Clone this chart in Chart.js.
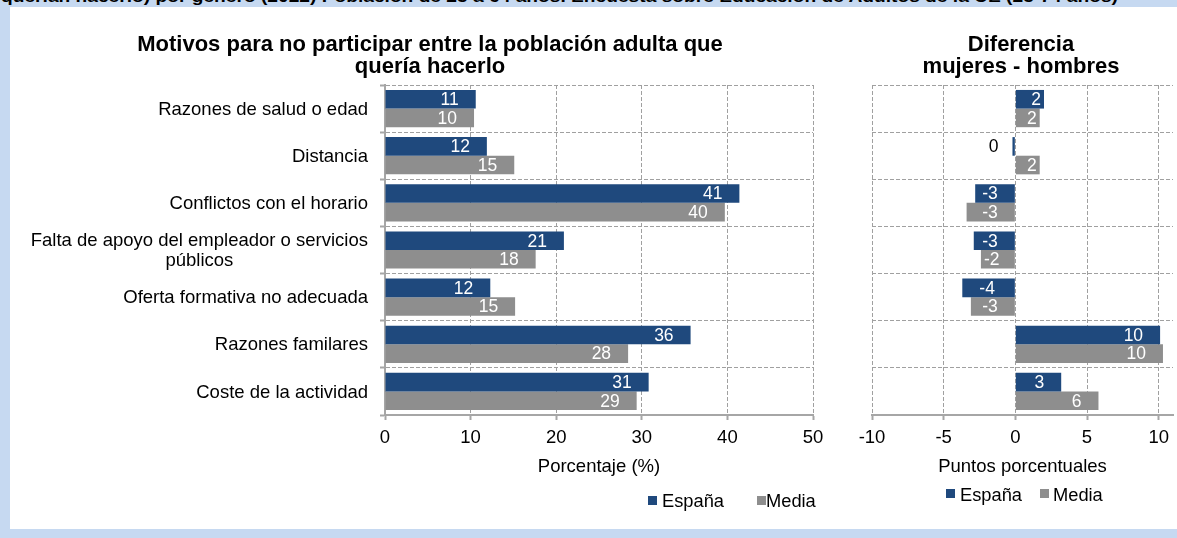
<!DOCTYPE html>
<html><head><meta charset="utf-8">
<script src="https://cdn.jsdelivr.net/npm/chart.js@4.4.1/dist/chart.umd.min.js"></script>
<style>
html,body{margin:0;padding:0;}
body{width:1177px;height:538px;background:#C6D9F1;position:relative;overflow:hidden;font-family:"Liberation Sans",Arial,sans-serif;}
#panel{position:absolute;left:10px;top:7px;width:1167px;height:522px;background:#fff;}
#hdr{position:absolute;left:0;top:0;width:1177px;height:7px;overflow:hidden;}
#hdr span{position:absolute;left:1px;top:-11px;font:bold 16px "Liberation Sans",Arial,sans-serif;white-space:nowrap;line-height:16px;color:#000;transform-origin:0 0;}
#c1{position:absolute;left:10px;top:7px;}
#c2{position:absolute;left:846px;top:7px;}
.leg{position:absolute;font:18.3px "Liberation Sans",Arial,sans-serif;color:#000;white-space:nowrap;line-height:20px;}
.sq{position:absolute;width:9px;height:9px;}
</style></head>
<body>
<div id="panel"></div>
<div id="hdr"><span id="hdrtxt">querían hacerlo) por género (2022) Población de 25 a 64 años. Encuesta sobre Educación de Adultos de la UE (25-74 años)</span></div>
<canvas id="c1" width="840" height="522"></canvas>
<canvas id="c2" width="331" height="522"></canvas>

<div class="sq" style="left:648px;top:496px;background:#1F497D"></div>
<div class="leg" style="left:662px;top:491px">España</div>
<div class="sq" style="left:757px;top:496px;background:#8E8E8E"></div>
<div class="leg" style="left:766px;top:491px">Media</div>

<div class="sq" style="left:946px;top:489px;background:#1F497D"></div>
<div class="leg" style="left:960px;top:485px">España</div>
<div class="sq" style="left:1040px;top:489px;background:#8E8E8E"></div>
<div class="leg" style="left:1053px;top:485px">Media</div>

<script>
// ---- data ----
const categories = [
  "Razones de salud o edad",
  "Distancia",
  "Conflictos con el horario",
  ["Falta de apoyo del empleador o servicios", "públicos"],
  "Oferta formativa no adecuada",
  "Razones familares",
  "Coste de la actividad"
];
const seriesNames = ["España", "Media"];
const espanaPct  = [10.6, 11.9, 41.4, 20.9, 12.3, 35.7, 30.8];
const mediaPct   = [10.4, 15.1, 39.7, 17.6, 15.2, 28.4, 29.4];
const espanaDiff = [2.0, -0.2, -2.8, -2.9, -3.7, 10.1, 3.2];
const mediaDiff  = [1.7, 1.7, -3.4, -2.4, -3.1, 10.3, 5.8];
const pctTicks   = [0, 10, 20, 30, 40, 50];
const diffTicks  = [-10, -5, 0, 5, 10];
const titleLeft  = ["Motivos para no participar entre la población adulta que", "quería hacerlo"];
const titleRight = ["Diferencia", "mujeres - hombres"];
const axisTitleLeft  = "Porcentaje (%)";
const axisTitleRight = "Puntos porcentuales";

// ---- styles ----
const FONT = '"Liberation Sans", Arial, sans-serif';
const BLUE = '#1F497D', GRAY = '#8E8E8E', GRID = '#A0A0A0', AXIS = '#A6A6A6';
const TXT = 18.5;
Chart.defaults.font.family = FONT;
Chart.defaults.color = '#000';

// header fit
(function(){
  const s = document.getElementById('hdrtxt');
  const w = s.getBoundingClientRect().width;
  s.style.transform = 'scaleX(' + (1117 / w) + ')';
})();

const catLabelPlugin = {
  id: 'catLabels',
  afterDraw(chart) {
    const y = chart.scales.y, ctx = chart.ctx;
    ctx.save();
    ctx.font = TXT + 'px ' + FONT;
    ctx.fillStyle = '#000';
    ctx.textBaseline = 'middle';
    ctx.textAlign = 'center';
    const right = y.right - 17;
    chart.data.labels.forEach((lab, i) => {
      const lines = Array.isArray(lab) ? lab : [lab];
      const w = Math.max(...lines.map(l => ctx.measureText(l).width));
      const cy = y.getPixelForValue(i);
      lines.forEach((l, j) => {
        ctx.fillText(l, right - w / 2, cy + 1 + (j - (lines.length - 1) / 2) * 20);
      });
    });
    ctx.restore();
  }
};

const barLabelPlugin = {
  id: 'barLabels',
  afterDatasetsDraw(chart) {
    const ctx = chart.ctx;
    ctx.save();
    ctx.font = '17.5px ' + FONT;
    ctx.textBaseline = 'middle';
    ctx.textAlign = 'left';
    chart.data.datasets.forEach((ds, di) => {
      const meta = chart.getDatasetMeta(di);
      meta.data.forEach((bar, i) => {
        const v = ds.data[i];
        const r = Math.round(v);
        const txt = String(r === 0 ? 0 : r);
        const w = ctx.measureText(txt).width;
        const end = bar.x, base = bar.base, len = Math.abs(end - base);
        let left;
        if (len < w + 6) {
          ctx.fillStyle = '#000';
          left = v < 0 ? end - 14 - w : end + 14;
        } else {
          ctx.fillStyle = '#fff';
          if (v >= 0) {
            left = end - 17 - w;
            if (left < base + 17) { left = base + 17; if (left + w > end - 3) left = end - 3 - w; }
          } else {
            left = end + 17;
            if (left + w > base - 17) { left = base - 17 - w; if (left < end + 3) left = end + 3; }
          }
        }
        ctx.fillText(txt, left, bar.y + 1);
      });
    });
    ctx.restore();
  }
};

function titleOpts(text) {
  return { display: true, text: text, color: '#000',
    font: { family: FONT, size: 22, weight: 'bold', lineHeight: 1.0 },
    padding: { top: 27, bottom: 7 } };
}
function xScale(min, max, tickVals, title) {
  return {
    type: 'linear', min: min, max: max,
    ticks: { color: '#000', font: { size: TXT }, padding: 7, autoSkip: false, maxRotation: 0 },
    afterBuildTicks(s) { s.ticks = tickVals.map(v => ({ value: v })); },
    grid: { color: GRID, lineWidth: 1, tickLength: 5, tickColor: AXIS, tickWidth: 2 },
    border: { display: true, color: AXIS, width: 2, dash: [4, 2] },
    title: { display: true, text: title, color: '#000', font: { size: TXT }, padding: { top: 4, bottom: 2 } },
    afterFit(s) { s.height = 65; s.paddingLeft = 0; s.paddingRight = 0; }
  };
}
function datasets(a, b) {
  return [
    { label: seriesNames[0], data: a, backgroundColor: BLUE, categoryPercentage: 0.79, barPercentage: 1.0 },
    { label: seriesNames[1], data: b, backgroundColor: GRAY, categoryPercentage: 0.79, barPercentage: 1.0 }
  ];
}

new Chart(document.getElementById('c1'), {
  type: 'bar',
  data: { labels: categories, datasets: datasets(espanaPct, mediaPct) },
  options: {
    indexAxis: 'y', responsive: false, animation: false,
    layout: { padding: { left: 37, right: 37, top: 0, bottom: 49 } },
    plugins: { legend: { display: false }, tooltip: { enabled: false }, title: titleOpts(titleLeft) },
    scales: {
      x: xScale(0, 50, pctTicks, axisTitleLeft),
      y: {
        ticks: { color: 'rgba(0,0,0,0)', font: { size: 12 }, autoSkip: false },
        grid: { color: GRID, lineWidth: 1, tickLength: 5, tickColor: AXIS, tickWidth: 2, offset: true },
        border: { display: true, color: AXIS, width: 2, dash: [4, 2] },
        afterFit(s) { s.width = 338; }
      }
    }
  },
  plugins: [catLabelPlugin, barLabelPlugin]
});

new Chart(document.getElementById('c2'), {
  type: 'bar',
  data: { labels: categories, datasets: datasets(espanaDiff, mediaDiff) },
  options: {
    indexAxis: 'y', responsive: false, animation: false,
    layout: { padding: { left: 23, right: 4, top: 0, bottom: 49 } },
    plugins: { legend: { display: false }, tooltip: { enabled: false }, title: titleOpts(titleRight) },
    scales: {
      x: xScale(-10, 11, diffTicks, axisTitleRight),
      y: {
        ticks: { display: false, autoSkip: false },
        grid: { color: GRID, lineWidth: 1, drawTicks: false, offset: true },
        border: { display: false, dash: [4, 2] },
        afterFit(s) { s.width = 3; }
      }
    }
  },
  plugins: [barLabelPlugin]
});
</script>
</body></html>
